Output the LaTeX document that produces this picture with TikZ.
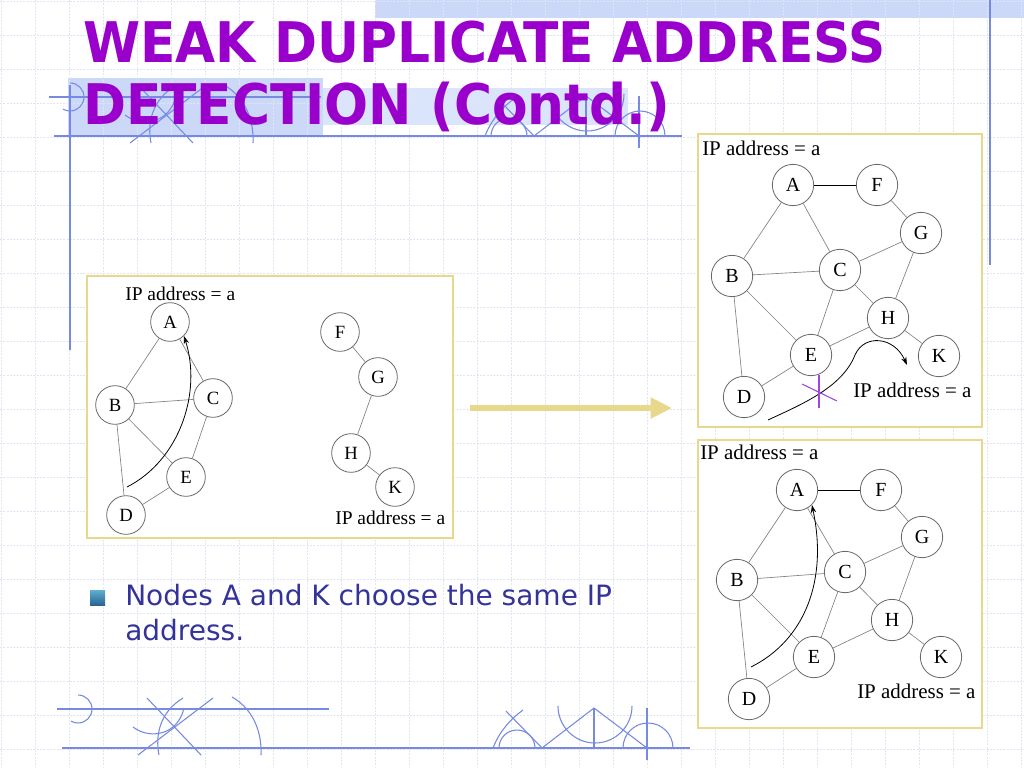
\documentclass[tikz,border=0pt]{standalone}
\usepackage{fontspec}
\usepackage{graphicx}
\setmainfont{Liberation Serif}
\newfontfamily\slidefont{DejaVu Sans}
\usetikzlibrary{arrows.meta}

\definecolor{titlepurple}{RGB}{153,0,204}
\definecolor{textnavy}{RGB}{51,51,153}
\definecolor{gridline}{RGB}{224,228,244}
\definecolor{decoblue}{RGB}{118,138,226}
\definecolor{boxyellow}{RGB}{232,216,140}
\definecolor{bandblue}{RGB}{204,216,248}
\definecolor{bandpale}{RGB}{218,228,250}
\definecolor{nodegray}{RGB}{105,105,105}
\definecolor{linkgray}{RGB}{130,130,130}
\definecolor{crosspurple}{RGB}{160,70,220}

\begin{document}
\begin{tikzpicture}[x=0.75pt,y=-0.75pt,
    host/.style={circle,draw=nodegray,fill=white,line width=0.6pt,inner sep=0pt,minimum size=29pt,font=\fontsize{14}{14}\selectfont},
    bighost/.style={host,minimum size=31pt,font=\fontsize{15}{15}\selectfont},
    link/.style={draw=linkgray,line width=0.5pt},
    panel/.style={draw=boxyellow,line width=2.2pt,fill=white},
    deco/.style={draw=decoblue,line width=0.8pt},
    iplabel/.style={anchor=base west,inner sep=0pt,font=\fontsize{14.6}{14.6}\selectfont},
    bigiplabel/.style={iplabel,font=\fontsize{15.7}{15.7}\selectfont},
    titleline/.style={anchor=base west,inner sep=0pt,text=titlepurple,font=\slidefont\bfseries\fontsize{42}{42}\selectfont}]
  \useasboundingbox (0,0) rectangle (1024,768);
  \fill[white] (0,0) rectangle (1024,768);

  % slide background
  \fill[bandblue] (375,0) rectangle (1024,18);
  \fill[bandblue] (68,78) rectangle (323,135);
  \fill[bandpale] (323,88) rectangle (628,125);
  \foreach \i in {0,...,30} {
    \draw[gridline,line width=0.6pt,dash pattern=on 1.5pt off 1pt] (34*\i+1,0) -- (34*\i+1,768);
  }
  \foreach \i in {0,...,22} {
    \draw[gridline,line width=0.6pt,dash pattern=on 1.5pt off 1pt] (0,34*\i+1) -- (1024,34*\i+1);
  }
  \draw[deco] (70,85) -- (70,350);
  \draw[deco] (990,0) -- (990,265);
  \foreach \dx/\dy in {0/0,-8/-612} {
    \begin{scope}[shift={(\dx,\dy)}]
      \draw[deco] (57,709) -- (329,709);
      \draw[deco] (62,748) -- (690,748);
      \draw[deco] (78,695) arc[start angle=-90,end angle=120,radius=14];
      \draw[deco] (147,698) -- (201,755);
      \draw[deco] (138,755) -- (213,698);
      \draw[deco] (133,727) .. controls (150,740) and (178,735) .. (184,708);
      \draw[deco] (183,698) .. controls (160,712) and (155,735) .. (159,755);
      \draw[deco] (232,697) .. controls (255,710) and (262,735) .. (261,755);
      \draw[deco] (499,748) arc[start angle=180,end angle=360,radius=18];
      \draw[deco] (506,711) -- (542,748);
      \draw[deco] (493,748) .. controls (500,730) and (512,718) .. (523,710);
      \draw[deco] (542,748) -- (594,708) -- (647,748);
      \draw[deco] (594,708) -- (594,748);
      \draw[deco] (558,706) arc[start angle=180,end angle=0,radius=37];
      \draw[deco] (623,748) arc[start angle=180,end angle=360,radius=25];
      \draw[deco] (647,708) -- (647,760);
    \end{scope}
  }

  % title and bullet
  \node[titleline] (title1) at (83,62) {\scalebox{0.925}[1]{WEAK DUPLICATE ADDRESS}};
  \node[titleline] (title2) at (83,124) {\scalebox{0.925}[1]{DETECTION (Contd.)}};
  \shade[top color={rgb,255:red,95;green,175;blue,205},bottom color={rgb,255:red,40;green,100;blue,150}] (90,590) rectangle (105,605);
  \node[anchor=base west,inner sep=0pt,text=textnavy,font=\slidefont\fontsize{21}{21}\selectfont] (point1) at (125,605) {Nodes A and K choose the same IP};
  \node[anchor=base west,inner sep=0pt,text=textnavy,font=\slidefont\fontsize{21}{21}\selectfont] (point2) at (125,640) {address.};

  % panels
  \draw[panel] (87,276) rectangle (453,538);
  \draw[panel] (698,134) rectangle (982,427);
  \draw[panel] (698,440) rectangle (982,728);
  \coordinate (arrowtail) at (470,408);
  \coordinate (arrowtip) at (672,408);
  \draw[boxyellow,line width=3.8pt,-{Triangle[length=16pt,width=15pt]}] (arrowtail) -- (arrowtip);

  % left panel: two partitions
  \draw
    (170,322) node[host] (lA){A}
    (115,405) node[host] (lB){B}
    (213,398) node[host] (lC){C}
    (126,515) node[host] (lD){D}
    (186,477) node[host] (lE){E}
    (340,332) node[host] (lF){F}
    (378,377) node[host] (lG){G}
    (351,453) node[host] (lH){H}
    (395,487) node[host] (lK){K};
  \node[iplabel] (lipA) at (125,300) {IP address = a};
  \node[iplabel] (lipK) at (335,524) {IP address = a};
  \begin{scope}[link]
    \draw (lA) -- (lB);
    \draw (lA) -- (lC);
    \draw (lB) -- (lC);
    \draw (lB) -- (lE);
    \draw (lB) -- (lD);
    \draw (lC) -- (lE);
    \draw (lD) -- (lE);
    \draw (lF) -- (lG);
    \draw (lG) -- (lH);
    \draw (lH) -- (lK);
  \end{scope}
  \coordinate (lstart) at (127,487);
  \draw[line width=0.6pt,-{Stealth[length=6pt,width=4pt]}] (lstart) .. controls (180,460) and (202,392) .. (lA.south east);

  % right top panel: merged network
  \draw
    (793,185) node[bighost] (tA){A}
    (877,185) node[bighost] (tF){F}
    (921,233) node[bighost] (tG){G}
    (732,276) node[bighost] (tB){B}
    (840,270) node[bighost] (tC){C}
    (888,318) node[bighost] (tH){H}
    (811,355) node[bighost] (tE){E}
    (939,356) node[bighost] (tK){K}
    (744,397) node[bighost] (tD){D};
  \node[bigiplabel] (tipA) at (702,155) {IP address = a};
  \node[bigiplabel] (tipK) at (853,397) {IP address = a};
  \draw[line width=0.6pt] (tA) -- (tF);
  \begin{scope}[link]
    \draw (tA) -- (tB);
    \draw (tA) -- (tC);
    \draw (tF) -- (tG);
    \draw (tC) -- (tG);
    \draw (tB) -- (tC);
    \draw (tB) -- (tE);
    \draw (tB) -- (tD);
    \draw (tC) -- (tE);
    \draw (tC) -- (tH);
    \draw (tG) -- (tH);
    \draw (tE) -- (tH);
    \draw (tH) -- (tK);
    \draw (tD) -- (tE);
  \end{scope}
  \coordinate (tstart) at (768,420);
  \coordinate (tend) at (907,365);
  \draw[line width=0.6pt,-{Stealth[length=6pt,width=4pt]}] (tstart) .. controls (800,405) and (842,388) .. (855,355) .. controls (864,334) and (894,336) .. (tend);
  \draw[crosspurple,line width=0.8pt] (819,375) -- (819,408);
  \draw[crosspurple,line width=0.8pt] (802,384) -- (837,401);

  % right bottom panel: merged network
  \draw
    (797,490) node[bighost] (bA){A}
    (881,490) node[bighost] (bF){F}
    (922,537) node[bighost] (bG){G}
    (737,580) node[bighost] (bB){B}
    (845,572) node[bighost] (bC){C}
    (892,620) node[bighost] (bH){H}
    (814,657) node[bighost] (bE){E}
    (941,657) node[bighost] (bK){K}
    (749,699) node[bighost] (bD){D};
  \node[bigiplabel] (bipA) at (700,459) {IP address = a};
  \node[bigiplabel] (bipK) at (857,698) {IP address = a};
  \draw[line width=0.6pt] (bA) -- (bF);
  \begin{scope}[link]
    \draw (bA) -- (bB);
    \draw (bA) -- (bC);
    \draw (bF) -- (bG);
    \draw (bC) -- (bG);
    \draw (bB) -- (bC);
    \draw (bB) -- (bE);
    \draw (bB) -- (bD);
    \draw (bC) -- (bE);
    \draw (bC) -- (bH);
    \draw (bG) -- (bH);
    \draw (bE) -- (bH);
    \draw (bH) -- (bK);
    \draw (bD) -- (bE);
  \end{scope}
  \coordinate (bstart) at (751,667);
  \draw[line width=0.6pt,-{Stealth[length=6pt,width=4pt]}] (bstart) .. controls (805,640) and (828,580) .. (bA.south east);
\end{tikzpicture}
\end{document}
